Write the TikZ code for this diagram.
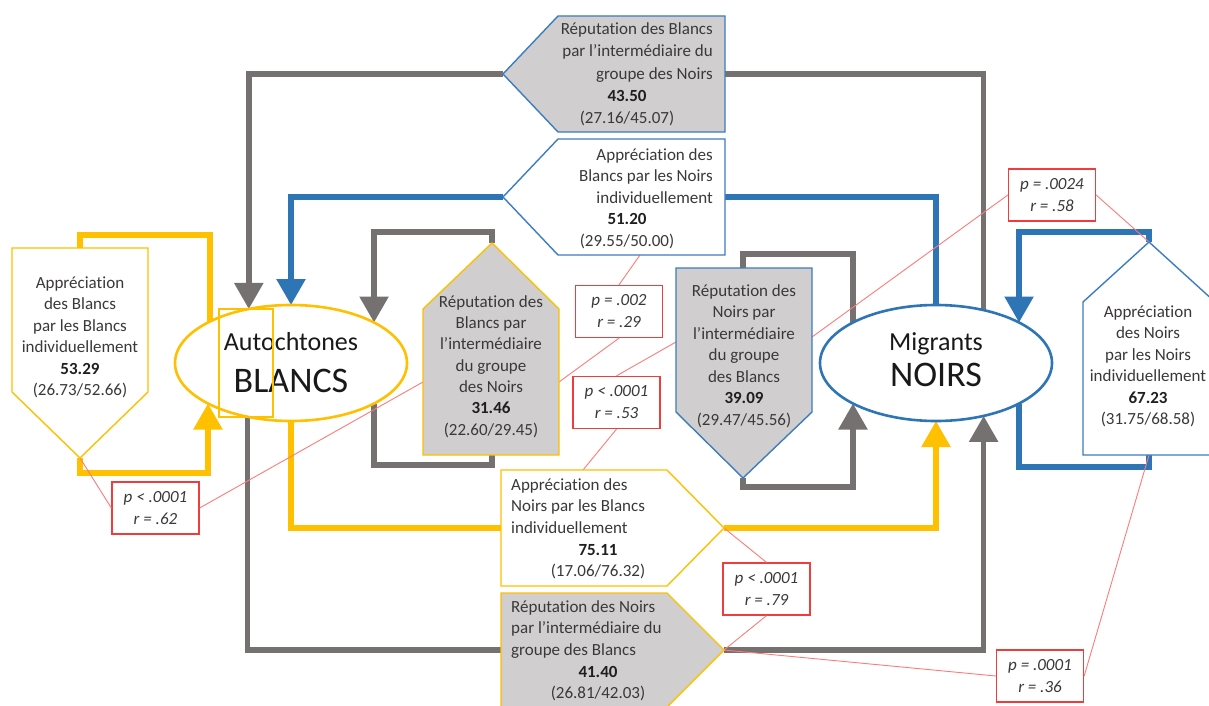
\documentclass[tikz,border=0pt]{standalone}
\usepackage{fontspec}
\setmainfont{Carlito}[Ligatures=NoCommon]
\usetikzlibrary{arrows.meta,shapes.geometric,backgrounds}
\definecolor{gline}{HTML}{767171}
\definecolor{gold}{HTML}{FFC000}
\definecolor{bline}{HTML}{2E75B6}
\definecolor{bfill}{HTML}{D0CECE}
\definecolor{bbord}{HTML}{3C7DC0}
\definecolor{rbox}{HTML}{F03C3C}
\definecolor{rline}{HTML}{FF7A7A}
\definecolor{txt}{HTML}{3B3838}
\newcommand{\fl}{\rule{0pt}{15pt}}
\newcommand{\nm}[1]{\textbf{\textcolor{black!88}{#1}}}
\begin{document}
\begin{tikzpicture}[x=1pt,y=-1pt,
  thk/.style={line width=5.5pt},
  gl/.style={thk,draw=gline},
  bl/.style={thk,draw=bline},
  yl/.style={thk,draw=gold},
  arr/.style={-{Triangle[width=28pt,length=26pt]}},
  grp/.style={ellipse,fill=white,line width=2.6pt,minimum width=232pt,minimum height=116pt,inner sep=0pt,outer sep=0pt},
  boxg/.style={fill=bfill,line width=1.4pt},
  boxw/.style={fill=white,line width=1.4pt},
  tx/.style={inner sep=0pt,text=txt,font=\fontsize{17}{21.5}\selectfont},
  stat/.style={draw=rbox,line width=1.3pt,fill=white,minimum width=87pt,minimum height=52pt,inner sep=0pt,align=center,text=txt,font=\itshape\fontsize{17}{22}\selectfont},
  rl/.style={draw=rline,line width=0.9pt},
  bigt/.style={inner sep=0pt,anchor=base,text=black!90}
]
\useasboundingbox (0,0) rectangle (1209,706);
\begin{scope}[on background layer]
\fill[white] (0,0) rectangle (1209,706);
\end{scope}

% group ellipses
\node[grp,draw=gold] (AB) at (291,363) {};
\node[grp,draw=bline] (MN) at (936,363) {};
\node[bigt,font=\fontsize{26}{30}\selectfont] (ABa) at (291,350) {Autochtones};
\node[bigt,font=\fontsize{36}{40}\selectfont] (ABb) at (291,392) {BLANCS};
\node[bigt,font=\fontsize{26}{30}\selectfont] (MNa) at (936,350) {Migrants};
\node[bigt,font=\fontsize{36}{40}\selectfont] (MNb) at (936,386) {NOIRS};

% box anchor points
\coordinate (Ap) at (503,74);
\coordinate (Ae) at (725,74);
\coordinate (Bp) at (503,197);
\coordinate (Be) at (725,197);
\coordinate (Bb) at (640,255);
\coordinate (Ct) at (492,243);
\coordinate (Cb) at (492,455);
\coordinate (Cl) at (423,382);
\coordinate (Cr) at (559,382);
\coordinate (Dt) at (743,268);
\coordinate (Db) at (743,478);
\coordinate (Dl) at (676,342);
\coordinate (Dr) at (812,337);
\coordinate (Et) at (80,248);
\coordinate (Eb) at (80,458);
\coordinate (Ft) at (1149,242);
\coordinate (Fb) at (1149,455);
\coordinate (Gw) at (501,528);
\coordinate (Gp) at (724,528);
\coordinate (Gn) at (583,470);
\coordinate (Hw) at (501,650);
\coordinate (Hp) at (724,650);

% thick connectors
\begin{scope}[on background layer]
\draw[gl] (MN.48.4) |- (Ae);
\draw[gl,arr] (Ap) -| (AB.128.6);
\draw[bl] (MN.north) |- (Be);
\draw[bl,arr] (Bp) -| (AB.north);
\draw[yl] (AB.south) |- (Gw);
\draw[yl,arr] (Gp) -| (MN.south);
\draw[gl] (AB.231.4) |- (Hw);
\draw[gl,arr] (Hp) -| (MN.-48.4);
\draw[gl,arr] (Ct) -- (Ct |- 0,232) -| (AB.26.6);
\draw[gl] (AB.-26.6) |- (Ct |- 0,465) -- (Cb);
\draw[gl] (MN.154) |- (Dt |- 0,254) -- (Dt);
\draw[gl,arr] (Db) -- (Db |- 0,487) -| (MN.206);
\draw[bl,arr] (Ft) -- (Ft |- 0,232) -| (MN.26.6);
\draw[bl] (MN.-26.6) |- (Fb |- 0,467) -- (Fb);
\draw[yl] (AB.153.4) |- (Et |- 0,235) -- (Et);
\draw[yl,arr] (Eb) -- (Eb |- 0,473) -| (AB.206.6);
\end{scope}

% statistic boxes
\node[stat] (S1) at (155.5,508) {\textit{p} < .0001\\\textit{r} = .62};
\node[stat] (S2) at (619,311.5) {\textit{p} = .002\\\textit{r} = .29};
\node[stat] (S3) at (616.5,402.5) {\textit{p} < .0001\\\textit{r} = .53};
\node[stat] (S4) at (1052,195) {\textit{p} = .0024\\\textit{r} = .58};
\node[stat] (S5) at (766.5,589) {\textit{p} < .0001\\\textit{r} = .79};
\node[stat] (S6) at (1040,676) {\textit{p} = .0001\\\textit{r} = .36};

% red links
\draw[rl] (Eb) -- (S1.west);
\draw[rl] (S1.east) -- (Cl);
\draw[rl] (Cr) -- (S2.south);
\draw[rl] (S2.north) -- (Bb);
\draw[rl] (S3.north) -- (Dl);
\draw[rl] (S3.south) -- (Gn);
\draw[rl] (S4.west) -- (Dr);
\draw[rl] (S4.east) -- (Ft);
\draw[rl] (S5.north) -- (Gp);
\draw[rl] (S5.south) -- (Hp);
\draw[rl] (Hp) -- (S6.west);
\draw[rl] (S6.east) -- (Fb);

% boxes
\draw[boxg,draw=bbord] (Ap) -- (558,16) -- (725,16) -- (725,132) -- (558,132) -- cycle;
\draw[boxw,draw=bbord] (Bp) -- (558,139) -- (725,139) -- (725,255) -- (558,255) -- cycle;
\draw[boxg,draw=gold] (Ct) -- (559,309) -- (559,455) -- (423,455) -- (423,309) -- cycle;
\draw[boxg,draw=bbord] (676,268) -- (812,268) -- (812,412) -- (Db) -- (676,412) -- cycle;
\draw[boxw,draw=gold] (12,248) -- (148,248) -- (148,392) -- (Eb) -- (12,392) -- cycle;
\draw[boxw,draw=bbord] (Ft) -- (1215,302) -- (1215,455) -- (1083,455) -- (1083,302) -- cycle;
\draw[boxw,draw=gold] (501,470) -- (667,470) -- (Gp) -- (667,586) -- (501,586) -- cycle;
\draw[boxg,draw=gold] (501,593) -- (667,593) -- (Hp) -- (667,707) -- (501,707) -- cycle;

% box texts
\node[tx,align=right,anchor=north east,font=\fontsize{17}{22.5}\selectfont] (Aw) at (713,19)
  {\fl Réputation des Blancs\\par l’intermédiaire du\\groupe des Noirs};
\node[tx,align=center,anchor=north] (An) at (627,86.5) {\fl\nm{43.50}\\(27.16/45.07)};
\node[tx,align=right,anchor=north east] (Bw) at (713,145)
  {\fl Appréciation des\\Blancs par les Noirs\\individuellement};
\node[tx,align=center,anchor=north] (Bn) at (627,209.5) {\fl\nm{51.20}\\(29.55/50.00)};
\node[tx,align=center,anchor=north,font=\fontsize{17}{21.3}\selectfont] (Cw) at (491,292)
  {\fl Réputation des\\Blancs par\\l’intermédiaire\\du groupe\\des Noirs\\\nm{31.46}\\(22.60/29.45)};
\node[tx,align=center,anchor=north] (Dw) at (744,281)
  {\fl Réputation des\\Noirs par\\l’intermédiaire\\du groupe\\des Blancs\\\nm{39.09}\\(29.47/45.56)};
\node[tx,align=center,anchor=north] (Ew) at (80,273)
  {\fl Appréciation\\des Blancs\\par les Blancs\\individuellement\\\nm{53.29}\\(26.73/52.66)};
\node[tx,align=center,anchor=north] (Fw) at (1148,302)
  {\fl Appréciation\\des Noirs\\par les Noirs\\individuellement\\\nm{67.23}\\(31.75/68.58)};
\node[tx,align=left,anchor=north west] (Gw2) at (511,475)
  {\fl Appréciation des\\Noirs par les Blancs\\individuellement};
\node[tx,align=center,anchor=north] (Gn2) at (598,540) {\fl\nm{75.11}\\(17.06/76.32)};
\node[tx,align=left,anchor=north west] (Hw2) at (511,597)
  {\fl Réputation des Noirs\\par l’intermédiaire du\\groupe des Blancs};
\node[tx,align=center,anchor=north] (Hn2) at (598,662) {\fl\nm{41.40}\\(26.81/42.03)};

% thin frame over the ellipse
\draw[draw=gold,line width=1.3pt] (219,309) rectangle (273,417);
\end{tikzpicture}
\end{document}
